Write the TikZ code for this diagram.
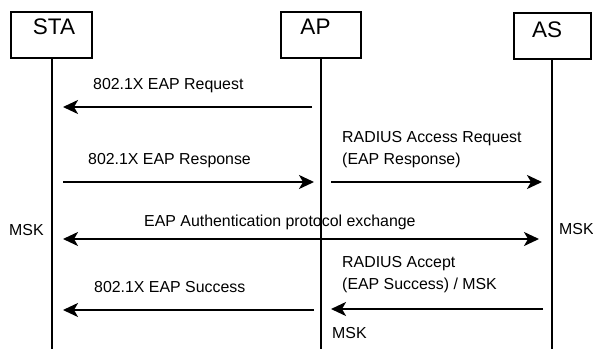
\documentclass[tikz,border=0pt]{standalone}
\usepackage{fontspec}
\setmainfont{Liberation Sans}
\usetikzlibrary{calc}
\usetikzlibrary{arrows.meta}

\tikzset{
  entity/.style={draw, line width=2pt, minimum height=46pt, inner sep=0pt},
  boxtxt/.style={anchor=north, inner sep=0pt, font=\fontsize{22.5}{26}\selectfont},
  life/.style={line width=2pt},
  msg/.style={line width=2pt, >={Stealth[length=15pt,width=14pt,inset=4pt]}},
  txt/.style={anchor=base west, inner sep=0pt, font=\fontsize{15.9}{22}\selectfont, align=left}
}

\begin{document}
\begin{tikzpicture}[x=1pt, y=-1pt]
\useasboundingbox (0,0) rectangle (593,348);
\coordinate (bot) at (0,350);

\node[entity, minimum width=81pt, label={[boxtxt, xshift=2.5pt, yshift=-8pt]north:STA}] (sta) at (51.5,35) {};
\node[entity, minimum width=80pt, label={[boxtxt, xshift=-5.5pt, yshift=-8pt]north:AP}] (ap) at (321,35) {};
\node[entity, minimum width=77pt, minimum height=46.5pt, label={[boxtxt, xshift=-5pt, yshift=-10pt]north:AS}] (as) at (552,35.8) {};

\foreach \n in {sta, ap, as}
\draw[life] (\n) -- (\n |- bot);

\draw[msg, ->] ($(ap |- 0,107)+(-9,0)$) -- ($(sta |- 0,107)+(11.5,0)$);
\node[txt] (req) at (93,89) {802.1X EAP Request};

\draw[msg, ->] ($(sta |- 0,182)+(11.5,0)$) -- ($(ap |- 0,182)+(-7,0)$);
\node[txt] (resp) at (88,164) {802.1X EAP Response};

\draw[msg, ->] ($(ap |- 0,182)+(10,0)$) -- ($(as |- 0,182)+(-10,0)$);
\node[txt] (radreq) at (342,164) {RADIUS Access Request\\(EAP Response)};

\draw[msg, <->] ($(sta |- 0,239)+(11.5,0)$) -- ($(as |- 0,239)+(-13,0)$);
\node[txt] (exch) at (144,226) {EAP Authentication protocol exchange};
\node[txt] (mskl) at (9,235) {MSK};
\node[txt] (mskr) at (559,234) {MSK};

\draw[msg, ->] ($(as |- 0,309)+(-9,0)$) -- ($(ap |- 0,309)+(10,0)$);
\node[txt] (radacc) at (342,289) {RADIUS Accept\\(EAP Success) / MSK};

\draw[msg, ->] ($(ap |- 0,310)+(-7,0)$) -- ($(sta |- 0,310)+(11.5,0)$);
\node[txt] (succ) at (94,292) {802.1X EAP Success};
\node[txt] (mskap) at (332,338) {MSK};

\end{tikzpicture}
\end{document}
